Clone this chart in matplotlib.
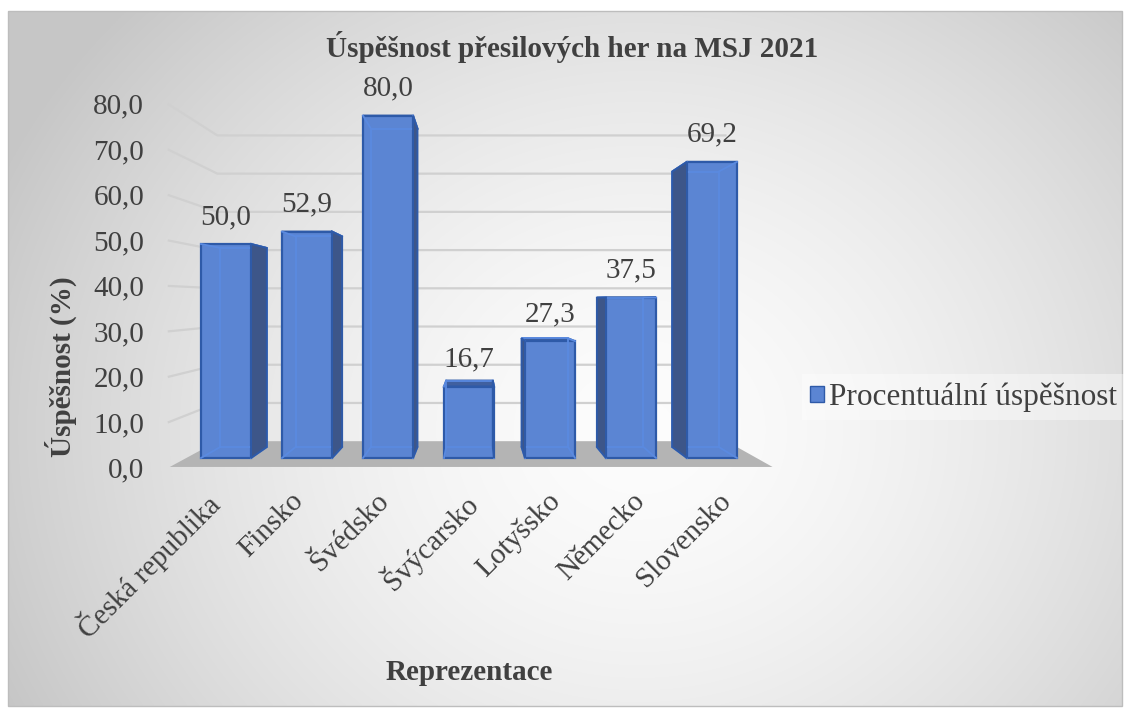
import numpy as np
import matplotlib
matplotlib.use("Agg")
import matplotlib.pyplot as plt
from matplotlib.patches import Polygon, Rectangle, Patch

# data
categories = ["Česká republika", "Finsko", "Švédsko", "Švýcarsko", "Lotyšsko", "Německo", "Slovensko"]
values = [50.0, 52.9, 80.0, 16.7, 27.3, 37.5, 69.2]
yticks = [0, 10, 20, 30, 40, 50, 60, 70, 80]
title = "Úspěšnost přesilových her na MSJ 2021"
xlabel = "Reprezentace"
ylabel = "Úspěšnost (%)"
series_name = "Procentuální úspěšnost"

FONT = "Liberation Serif"
TXT = "#404040"
FRONT = "#5b85d3"
SIDE = "#3d5689"
TOP = "#40609f"
EDGE = "#2e5aa8"
INNER = "#5a8ae0"
GRID = "#d0d0d0"
FLOOR = "#b4b4b4"

W, H = 1126, 715
fig = plt.figure(figsize=(W / 100, H / 100), dpi=100, facecolor="white")

# background gradient in chart frame
bg = fig.add_axes([0, 0, 1, 1], zorder=-1)
bg.set_xlim(0, W)
bg.set_ylim(H, 0)
bg.axis("off")
gx, gy = np.meshgrid(np.linspace(8, 1122, 400), np.linspace(11, 706, 260))
t = np.sqrt(((gx - 640) / 700) ** 2 + ((gy - 430) / 620) ** 2)
t = np.clip(t, 0, 1) ** 1.6
g = 0.99 - (0.99 - 0.78) * t
bg.imshow(np.dstack([g, g, g]), extent=(8, 1122, 706, 11), interpolation="bilinear", aspect="auto")
bg.add_patch(Rectangle((8, 11), 1114, 695, fill=False, edgecolor="#bdbdbd", lw=1))

# main axes: x in category units, y in value units (front plane of bars)
PX_CAT, CAT0, PX_UNIT, BASE = 81.0, 226.0, 4.28, 458.0
ax = fig.add_axes([0, 0, 1, 1])
ax.set_xlim(-CAT0 / PX_CAT, (W - CAT0) / PX_CAT)
ax.set_ylim((BASE - H) / PX_UNIT, BASE / PX_UNIT)
ax.axis("off")
ax.patch.set_alpha(0)

VX, VY = 3.09, 36.7
S_BACK, S_WALL, S_FRONT, S_SIDE = 0.93, 0.893, 1.057, 1.064
XL, XR = -0.49, 6.55
HW = 0.309


def P(x, v, s):
    return VX + s * (x - VX), VY + s * (v - VY)


# floor
ax.add_patch(Polygon([P(XL, 0, S_FRONT), P(XR, 0, S_FRONT), P(XR, 0, S_WALL), P(XL, 0, S_WALL)],
                     closed=True, facecolor=FLOOR, edgecolor="none", zorder=1))

# gridlines on back and side walls
for v in yticks[1:]:
    xs = [P(XL, v, S_SIDE)[0], P(XL, v, S_WALL)[0], P(XR, v, S_WALL)[0]]
    ys = [P(XL, v, S_SIDE)[1], P(XL, v, S_WALL)[1], P(XR, v, S_WALL)[1]]
    ax.plot(xs, ys, color=GRID, lw=1.6, zorder=0.8, solid_capstyle="butt")

for v in yticks:
    ax.annotate(f"{v:.1f}".replace(".", ","), xy=P(XL, v, S_SIDE), xytext=(-17, -2),
                textcoords="offset points", ha="right", va="center",
                fontsize=21, family=FONT, color=TXT)

# bars
for i, val in enumerate(values):
    x0, x1 = i - HW, i + HW
    F = lambda x, v: P(x, v, 1.0)
    B = lambda x, v: P(x, v, S_BACK)
    ax.add_patch(Polygon([F(x0, val), F(x1, val), B(x1, val), B(x0, val)], closed=True,
                         facecolor=TOP, edgecolor=EDGE, lw=1.4, zorder=2))
    ax.add_patch(Polygon([F(x0, 0), F(x1, 0), F(x1, val), F(x0, val)], closed=True,
                         facecolor=FRONT, edgecolor=EDGE, lw=1.6, zorder=4))
    # hidden edges seen through
    corners = [(x0, 0), (x1, 0), (x1, val), (x0, val)]
    bx = [B(*c)[0] for c in corners + corners[:1]]
    by = [B(*c)[1] for c in corners + corners[:1]]
    ax.plot(bx, by, color=INNER, lw=1.3, zorder=4.5)
    for c in corners:
        ax.plot([F(*c)[0], B(*c)[0]], [F(*c)[1], B(*c)[1]], color=INNER, lw=1.3, zorder=4.5)
    xs = x1 if i < VX else x0
    ax.add_patch(Polygon([F(xs, 0), B(xs, 0), B(xs, val), F(xs, val)], closed=True,
                         facecolor=SIDE, edgecolor=EDGE, lw=1.4, zorder=5))
    ax.annotate(f"{val:.1f}".replace(".", ","), xy=(i, val), xytext=(0, 19.5),
                textcoords="offset points", ha="center", va="center",
                fontsize=21, family=FONT, color=TXT, zorder=6)

# category labels
for i, name in enumerate(categories):
    ax.annotate(name, xy=P(i, 0, S_FRONT), xytext=(-5.5, -15), textcoords="offset points",
                ha="right", va="top", rotation=45, rotation_mode="anchor",
                fontsize=21, family=FONT, color=TXT)

fig.text(572 / W, 1 - 47 / H, title, ha="center", va="center", fontsize=21,
         fontweight="bold", family=FONT, color=TXT)
fig.text(469 / W, 1 - 672 / H, xlabel, ha="center", va="center", fontsize=21,
         fontweight="bold", family=FONT, color=TXT)
fig.text(61 / W, 1 - 367 / H, ylabel, ha="center", va="center", rotation=90, fontsize=21,
         fontweight="bold", family=FONT, color=TXT)

leg = fig.legend(handles=[Patch(facecolor=FRONT, edgecolor=EDGE, label=series_name)],
                 loc="center left", bbox_to_anchor=(802 / W, 1 - 397 / H), frameon=True,
                 fancybox=False, prop={"family": FONT, "size": 22.5}, handlelength=0.42,
                 handleheight=0.42, handletextpad=0.18, borderpad=0.27, borderaxespad=0)
leg.get_frame().set_facecolor("white")
leg.get_frame().set_alpha(0.4)
leg.get_frame().set_edgecolor("none")
for txt in leg.get_texts():
    txt.set_color(TXT)

fig.savefig("out.png", dpi=100)
